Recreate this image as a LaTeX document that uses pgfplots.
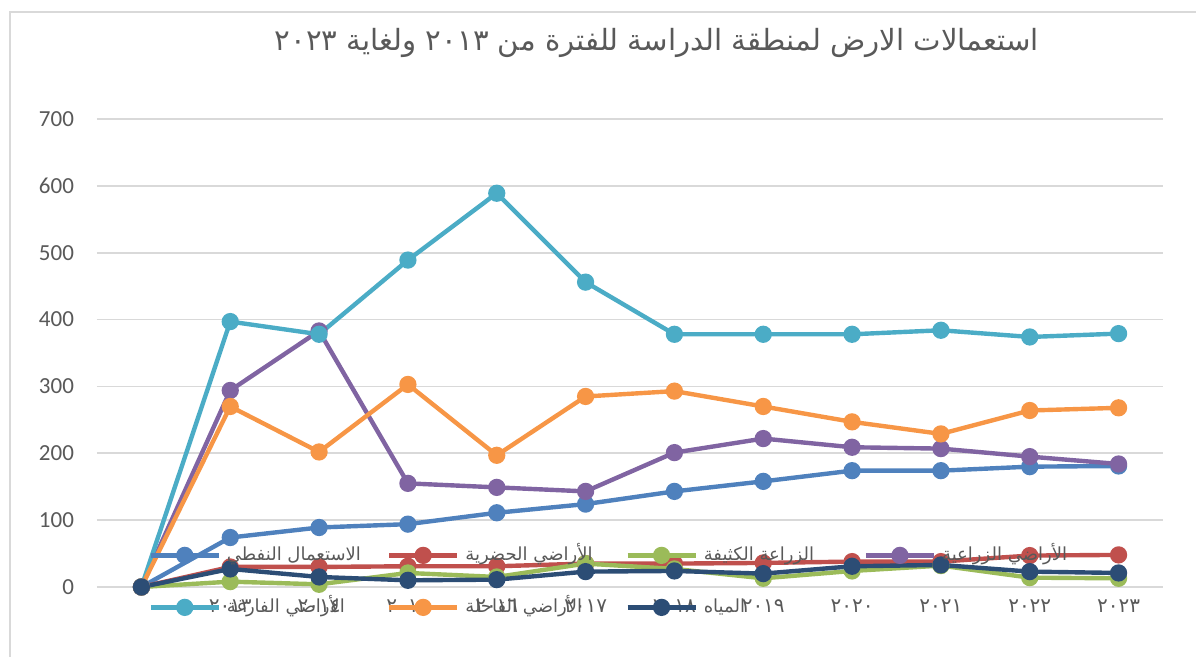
\documentclass[border=0pt]{standalone}
\usepackage{pgfplots}
\pgfplotsset{compat=1.18}
\usepackage{fontspec}
\setmainfont{Carlito}
\newfontfamily\arabicfont[Script=Arabic]{DejaVu Sans}
\TeXXeTstate=1
\definecolor{cBlue}{HTML}{4F81BD}
\definecolor{cRed}{HTML}{C0504D}
\definecolor{cGreen}{HTML}{9BBB59}
\definecolor{cPurple}{HTML}{8064A2}
\definecolor{cCyan}{HTML}{4BACC6}
\definecolor{cOrange}{HTML}{F79646}
\definecolor{cNavy}{HTML}{2C4D75}
\definecolor{gridgray}{HTML}{D9D9D9}
\definecolor{txtgray}{HTML}{595959}
\newcommand{\lent}[1]{\makebox[80pt][l]{\hbox{\arabicfont\fontsize{9}{11}\selectfont\color{txtgray}\beginR #1\endR}}}
\begin{document}
\begin{tikzpicture}
\path[use as bounding box] (0,0) rectangle (598pt,-328.5pt);
\draw[gridgray, line width=1pt] (5pt,-335pt) -- (5pt,-6pt) -- (605pt,-6pt);
\node[text=txtgray, font=\arabicfont\fontsize{14.6}{16}\selectfont] at (328.5pt,-21.5pt)
  {\beginR استعمالات الارض لمنطقة الدراسة للفترة من \beginL ٢٠١٣\endL{} ولغاية \beginL ٢٠٢٣\endL\endR};
\begin{axis}[
  at={(48.5pt,-293.5pt)}, anchor=south west,
  scale only axis, width=533pt, height=234pt,
  xmin=-0.5, xmax=11.5, ymin=0, ymax=700,
  clip=false,
  axis line style={draw=none}, tick style={draw=none},
  ymajorgrids, grid style={gridgray, line width=0.8pt},
  ytick={0,100,...,700},
  xtick={0,...,11},
  xticklabels={,٢٠١٣,٢٠١٤,٢٠١٥,٢٠١٦,٢٠١٧,٢٠١٨,٢٠١٩,٢٠٢٠,٢٠٢١,٢٠٢٢,٢٠٢٣},
  xticklabel style={font=\arabicfont\fontsize{10}{12}\selectfont, text=txtgray, yshift=-3pt},
  yticklabel style={font=\fontsize{11.5}{13}\selectfont, text=txtgray, xshift=-8pt},
  /pgf/number format/assume math mode=true,
  every axis plot/.append style={line width=2.2pt, mark=*, mark size=3.2pt},
  legend columns=4,
  legend style={at={(rel axis cs:0.048,0.012)}, anchor=west, draw=none, fill=none,
    inner sep=0pt, row sep=17pt,
    nodes={inner sep=0pt, text height=7pt, text depth=2pt},
    /tikz/every odd column/.append style={column sep=3pt}},
  legend cell align=left,
  legend image code/.code={\draw[mark repeat=2,mark phase=2,#1] plot coordinates {(0pt,0pt) (17pt,0pt) (34pt,0pt)};},
]
\addplot[cBlue] coordinates {(0,0)(1,74)(2,89)(3,94)(4,111)(5,124)(6,143)(7,158)(8,174)(9,174)(10,180)(11,181)};
\addlegendentry{\lent{الاستعمال النفطي}}
\addplot[cRed] coordinates {(0,0)(1,30)(2,30)(3,31)(4,31)(5,35)(6,35)(7,36)(8,38)(9,38)(10,47)(11,48)};
\addlegendentry{\lent{الأراضي الحضرية}}
\addplot[cGreen] coordinates {(0,0)(1,8)(2,4)(3,21)(4,15)(5,35)(6,27)(7,13)(8,24)(9,32)(10,14)(11,13)};
\addlegendentry{\lent{الزراعة الكثيفة}}
\addplot[cPurple] coordinates {(0,0)(1,294)(2,383)(3,155)(4,149)(5,143)(6,201)(7,222)(8,209)(9,207)(10,195)(11,184)};
\addlegendentry{\lent{الأراضي الزراعية}}
\addplot[cCyan] coordinates {(0,0)(1,397)(2,378)(3,489)(4,589)(5,456)(6,378)(7,378)(8,378)(9,384)(10,374)(11,379)};
\addlegendentry{\lent{الأراضي الفارغة}}
\addplot[cOrange] coordinates {(0,0)(1,270)(2,202)(3,303)(4,197)(5,285)(6,293)(7,270)(8,247)(9,229)(10,264)(11,268)};
\addlegendentry{\lent{الأراضي القاحلة}}
\addplot[cNavy] coordinates {(0,0)(1,27)(2,15)(3,10)(4,11)(5,23)(6,24)(7,20)(8,31)(9,33)(10,23)(11,21)};
\addlegendentry{\lent{المياه}}
\end{axis}
\end{tikzpicture}
\end{document}
